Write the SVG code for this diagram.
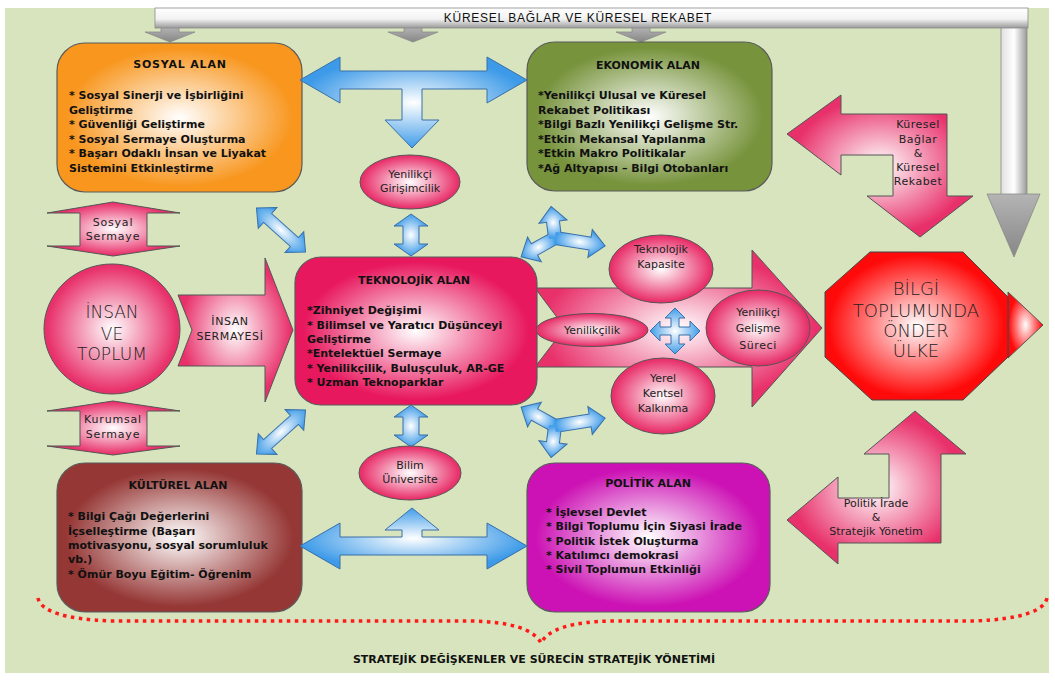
<svg xmlns="http://www.w3.org/2000/svg" xmlns:xlink="http://www.w3.org/1999/xlink" width="1055" height="681" viewBox="0 0 1055 681">
<defs>
<radialGradient id="gOrange" cx="50%" cy="50%" r="62%"><stop offset="0" stop-color="#ffffff"/><stop offset="0.75" stop-color="#f8961e"/></radialGradient>
<radialGradient id="gGreen" cx="50%" cy="50%" r="62%"><stop offset="0" stop-color="#ffffff"/><stop offset="0.75" stop-color="#77933c"/></radialGradient>
<radialGradient id="gTek" cx="50%" cy="50%" r="62%"><stop offset="0" stop-color="#ffffff"/><stop offset="0.75" stop-color="#e8185e"/></radialGradient>
<radialGradient id="gKul" cx="50%" cy="50%" r="62%"><stop offset="0" stop-color="#ffffff"/><stop offset="0.75" stop-color="#953735"/></radialGradient>
<radialGradient id="gPol" cx="50%" cy="50%" r="62%"><stop offset="0" stop-color="#ffffff"/><stop offset="0.75" stop-color="#cc12b4"/></radialGradient>
<radialGradient id="gPink" cx="50%" cy="50%" r="60%"><stop offset="0" stop-color="#ffffff"/><stop offset="0.8" stop-color="#e8306a"/></radialGradient>
<radialGradient id="gRed" cx="50%" cy="50%" r="60%"><stop offset="0" stop-color="#ffffff"/><stop offset="0.8" stop-color="#ff0a0a"/></radialGradient>
<radialGradient id="gBlue" cx="50%" cy="50%" r="60%"><stop offset="0" stop-color="#ffffff"/><stop offset="0.85" stop-color="#3c9ae8"/></radialGradient>
<linearGradient id="gBanner" x1="0" y1="0" x2="0" y2="1"><stop offset="0" stop-color="#ffffff"/><stop offset="0.55" stop-color="#f2f2f2"/><stop offset="1" stop-color="#9a9a9a"/></linearGradient>
<linearGradient id="gBarH" x1="0" y1="0" x2="1" y2="0"><stop offset="0" stop-color="#e0e0e0"/><stop offset="0.5" stop-color="#ffffff"/><stop offset="1" stop-color="#9a9a9a"/></linearGradient>
<linearGradient id="gGrayHead" x1="0" y1="0" x2="0" y2="1"><stop offset="0" stop-color="#b4b4b4"/><stop offset="1" stop-color="#878787"/></linearGradient>
<path id="armS" d="M0,-6 L24,-6 L24,-13 L38,0 L24,13 L24,6 L0,6 Z"/>
<path id="armM" d="M0,-6 L17,-6 L17,-13 L31,0 L17,13 L17,6 L0,6 Z"/>
<path id="armL" d="M0,-6 L36,-6 L36,-13 L50,0 L36,13 L36,6 L0,6 Z"/>
<path id="dbl" d="M-33,0 L-18,-14 L-18,-6 L18,-6 L18,-14 L33,0 L18,14 L18,6 L-18,6 L-18,14 Z"/>
<style>
.box{stroke:#5a5a5a;stroke-width:1.2}
.shape{stroke:#555;stroke-width:1}
.blue{fill:url(#gBlue);stroke:#3a6fa8;stroke-width:1}
.gray{fill:url(#gGrayHead);stroke:#8a8a8a;stroke-width:0.8}
.ttl{font-family:"DejaVu Sans",sans-serif;font-weight:bold;font-size:11px;fill:#111;text-anchor:middle}
.bt{font-family:"DejaVu Sans",sans-serif;font-weight:bold;font-size:11px;fill:#111}
.lbl{font-family:"DejaVu Sans",sans-serif;font-size:11px;fill:#222;text-anchor:middle}
.big{font-family:"DejaVu Sans",sans-serif;font-weight:300;fill:#222;text-anchor:middle}
</style>
</defs>

<rect x="0" y="0" width="1055" height="681" fill="#ffffff"/>
<rect x="5" y="8" width="1044" height="665" fill="#d7e4bd"/>

<g id="banner">
<polygon class="gray" points="161,27 179,27 179,32 195,32 170,42 145,32 161,32"/>
<polygon class="gray" points="404,27 422,27 422,32 438,32 413,42 388,32 404,32"/>
<polygon class="gray" points="632,27 650,27 650,32 666,32 641,42 616,32 632,32"/>
<rect x="1001" y="26" width="26" height="169" fill="url(#gBarH)" stroke="#8a8a8a" stroke-width="0.8"/>
<polygon points="987,194 1040,194 1014,257" fill="url(#gGrayHead)" stroke="#8a8a8a" stroke-width="0.8"/>
<rect x="155" y="8" width="873" height="20" fill="url(#gBanner)" stroke="#8a8a8a" stroke-width="0.8"/>
<text x="578" y="22" font-family="Liberation Sans, sans-serif" font-size="12" letter-spacing="0.7" fill="#111" text-anchor="middle">KÜRESEL BAĞLAR  VE  KÜRESEL  REKABET</text>
</g>

<g id="sosyal-alan">
<rect class="box" x="57" y="43" width="245" height="149" rx="28" fill="url(#gOrange)"/>
<text class="ttl" x="180" y="68" letter-spacing="0.8">SOSYAL ALAN</text>
<text class="bt" x="69" y="99">* Sosyal Sinerji ve İşbirliğini</text>
<text class="bt" x="69" y="114">Geliştirme</text>
<text class="bt" x="69" y="128">* Güvenliği Geliştirme</text>
<text class="bt" x="69" y="143">* Sosyal Sermaye Oluşturma</text>
<text class="bt" x="69" y="157">* Başarı Odaklı İnsan ve Liyakat</text>
<text class="bt" x="69" y="172">Sistemini Etkinleştirme</text>
</g>

<g id="ekonomik-alan">
<rect class="box" x="527" y="42" width="245" height="149" rx="28" fill="url(#gGreen)"/>
<text class="ttl" x="648" y="69">EKONOMİK ALAN</text>
<text class="bt" x="538" y="99">*Yenilikçi Ulusal ve Küresel</text>
<text class="bt" x="538" y="114">Rekabet Politikası</text>
<text class="bt" x="538" y="128">*Bilgi Bazlı Yenilikçi Gelişme Str.</text>
<text class="bt" x="538" y="143">*Etkin Mekansal Yapılanma</text>
<text class="bt" x="538" y="157">*Etkin Makro Politikalar</text>
<text class="bt" x="538" y="172">*Ağ Altyapısı – Bilgi Otobanları</text>
</g>

<g id="yenilikci-gelisme-arrow">
<polygon class="shape" points="535,288 752,288 752,250 822,328 752,407 752,367 535,367 565,328" fill="url(#gPink)"/>
</g>

<g id="teknolojik-alan">
<rect class="box" x="295" y="257" width="242" height="148" rx="26" fill="url(#gTek)"/>
<text class="ttl" x="414" y="284">TEKNOLOJİK ALAN</text>
<text class="bt" x="307" y="314">*Zihniyet Değişimi</text>
<text class="bt" x="307" y="329">* Bilimsel ve Yaratıcı Düşünceyi</text>
<text class="bt" x="307" y="343">Geliştirme</text>
<text class="bt" x="307" y="357">*Entelektüel Sermaye</text>
<text class="bt" x="307" y="372">* Yenilikçilik, Buluşçuluk, AR-GE</text>
<text class="bt" x="307" y="386">* Uzman Teknoparklar</text>
</g>

<g id="kulturel-alan">
<rect class="box" x="57" y="463" width="245" height="149" rx="28" fill="url(#gKul)"/>
<text class="ttl" x="178" y="489">KÜLTÜREL ALAN</text>
<text class="bt" x="68" y="520">* Bilgi Çağı Değerlerini</text>
<text class="bt" x="68" y="535">İçselleştirme (Başarı</text>
<text class="bt" x="68" y="549">motivasyonu, sosyal sorumluluk</text>
<text class="bt" x="68" y="563">vb.)</text>
<text class="bt" x="68" y="578">* Ömür Boyu Eğitim- Öğrenim</text>
</g>

<g id="politik-alan">
<rect class="box" x="527" y="463" width="243" height="149" rx="28" fill="url(#gPol)"/>
<text class="ttl" x="648" y="487">POLİTİK ALAN</text>
<text class="bt" x="546" y="516">* İşlevsel Devlet</text>
<text class="bt" x="546" y="530">* Bilgi Toplumu İçin Siyasi İrade</text>
<text class="bt" x="546" y="545">* Politik İstek Oluşturma</text>
<text class="bt" x="546" y="559">* Katılımcı demokrasi</text>
<text class="bt" x="546" y="573">* Sivil Toplumun Etkinliği</text>
</g>

<g id="connectors">
<polygon class="blue" points="300,80 340,57 340,71 487,71 487,57 527,80 487,103 487,89 422,89 422,120 439,120 412,148 385,120 402,120 402,89 340,89 340,103"/>
<polygon class="blue" points="300,546 340,523 340,537 402,537 402,530 385,530 412,508 439,530 422,530 422,537 487,537 487,523 527,546 487,569 487,555 340,555 340,569"/>
<polygon class="blue" points="411,214 428,226 419,226 419,244 428,244 411,256 394,244 403,244 403,226 394,226"/>
<polygon class="blue" points="411,405 428,417 419,417 419,435 428,435 411,447 394,435 403,435 403,417 394,417"/>
<use href="#dbl" xlink:href="#dbl" class="blue" transform="translate(281,230) rotate(42)"/>
<use href="#dbl" xlink:href="#dbl" class="blue" transform="translate(281,432) rotate(-42)"/>
<g stroke="#3a6fa8" stroke-width="2" fill="#3a6fa8">
<use href="#armS" xlink:href="#armS" transform="translate(555,238) rotate(151)"/>
<use href="#armM" xlink:href="#armM" transform="translate(555,238) rotate(-97)"/>
<use href="#armL" xlink:href="#armL" transform="translate(555,238) rotate(9)"/>
<use href="#armS" xlink:href="#armS" transform="translate(555,426) rotate(-151)"/>
<use href="#armM" xlink:href="#armM" transform="translate(555,426) rotate(97)"/>
<use href="#armL" xlink:href="#armL" transform="translate(555,426) rotate(-9)"/>
</g>
<g fill="url(#gBlue)">
<use href="#armS" xlink:href="#armS" transform="translate(555,238) rotate(151)"/>
<use href="#armM" xlink:href="#armM" transform="translate(555,238) rotate(-97)"/>
<use href="#armL" xlink:href="#armL" transform="translate(555,238) rotate(9)"/>
<use href="#armS" xlink:href="#armS" transform="translate(555,426) rotate(-151)"/>
<use href="#armM" xlink:href="#armM" transform="translate(555,426) rotate(97)"/>
<use href="#armL" xlink:href="#armL" transform="translate(555,426) rotate(-9)"/>
</g>
<polygon class="blue" points="700,331 690,321 690,327 679,327 679,318 685,318 675,308 665,318 671,318 671,327 660,327 660,321 650,331 660,341 660,335 671,335 671,344 665,344 675,354 685,344 679,344 679,335 690,335 690,341"/>
</g>

<g id="sosyal-sermaye">
<polygon class="shape" points="113,202 180,213 147,213 147,246 180,246 113,256 47,246 80,246 80,213 47,213" fill="url(#gPink)"/>
<text class="lbl" x="113" y="226" letter-spacing="0.8">Sosyal</text>
<text class="lbl" x="113" y="240" letter-spacing="0.8">Sermaye</text>
</g>

<g id="kurumsal-sermaye">
<polygon class="shape" points="113,401 180,411 147,411 147,446 180,446 113,455 47,446 80,446 80,411 47,411" fill="url(#gPink)"/>
<text class="lbl" x="113" y="423" letter-spacing="0.8">Kurumsal</text>
<text class="lbl" x="113" y="438" letter-spacing="0.8">Sermaye</text>
</g>

<g id="insan-ve-toplum">
<ellipse class="shape" cx="112" cy="329" rx="68" ry="65" fill="url(#gPink)"/>
<text class="big" x="112" y="318" font-size="17">İNSAN</text>
<text class="big" x="112" y="340" font-size="17">VE</text>
<text class="big" x="112" y="360" font-size="17">TOPLUM</text>
</g>

<g id="insan-sermayesi">
<polygon class="shape" points="178,295 265,295 265,258 293,330 265,402 265,366 178,366 192,330" fill="url(#gPink)"/>
<text class="lbl" x="230" y="325" letter-spacing="0.6">İNSAN</text>
<text class="lbl" x="230" y="340" letter-spacing="0.6">SERMAYESİ</text>
</g>

<g id="yenilikci-girisimcilik">
<ellipse class="shape" cx="410" cy="182" rx="50" ry="27" fill="url(#gPink)"/>
<text class="lbl" x="410" y="178" font-size="10.5">Yenilikçi</text>
<text class="lbl" x="410" y="192" font-size="10.5">Girişimcilik</text>
</g>

<g id="bilim-universite">
<ellipse class="shape" cx="410" cy="473" rx="51" ry="27" fill="url(#gPink)"/>
<text class="lbl" x="410" y="469" font-size="10.5">Bilim</text>
<text class="lbl" x="410" y="483" font-size="10.5">Üniversite</text>
</g>

<g id="teknolojik-kapasite">
<ellipse class="shape" cx="661" cy="269" rx="52" ry="34" fill="url(#gPink)"/>
<text class="lbl" x="661" y="253">Teknolojik</text>
<text class="lbl" x="661" y="268">Kapasite</text>
</g>

<g id="yenilikcilik">
<ellipse class="shape" cx="592" cy="330" rx="56" ry="16.5" fill="url(#gPink)"/>
<text class="lbl" x="592" y="334" font-size="11.5">Yenilikçilik</text>
</g>

<g id="yenilikci-gelisme-sureci">
<ellipse class="shape" cx="758" cy="328" rx="52" ry="38" fill="url(#gPink)"/>
<text class="lbl" x="758" y="316" font-size="11.5">Yenilikçi</text>
<text class="lbl" x="758" y="332" font-size="11.5">Gelişme</text>
<text class="lbl" x="758" y="349" font-size="11.5" letter-spacing="0.6">Süreci</text>
</g>

<g id="yerel-kentsel-kalkinma">
<ellipse class="shape" cx="663" cy="396" rx="52" ry="38" fill="url(#gPink)"/>
<text class="lbl" x="663" y="382">Yerel</text>
<text class="lbl" x="663" y="397">Kentsel</text>
<text class="lbl" x="663" y="412">Kalkınma</text>
</g>

<g id="kuresel-baglar">
<polygon class="shape" points="787,134 841,95 841,114 947,114 947,196 973,196 920,237 867,196 893,196 893,155 841,155 841,175" fill="url(#gPink)"/>
<text class="lbl" x="918" y="128" letter-spacing="0.5">Küresel</text>
<text class="lbl" x="918" y="143" letter-spacing="0.5">Bağlar</text>
<text class="lbl" x="918" y="157">&amp;</text>
<text class="lbl" x="918" y="171" letter-spacing="0.5">Küresel</text>
<text class="lbl" x="918" y="185" letter-spacing="0.5">Rekabet</text>
</g>

<g id="bilgi-toplumunda-onder-ulke">
<polygon points="1008,292 1043,325 1008,358" fill="url(#gRed)" stroke="#555" stroke-width="1"/>
<polygon points="870,252 963,252 1008,297 1008,357 963,400 872,400 825,357 825,292" fill="url(#gRed)" stroke="#444" stroke-width="1"/>
<text class="big" x="916" y="295" font-size="18" fill="#333">BİLGİ</text>
<text class="big" x="916" y="317" font-size="18">TOPLUMUNDA</text>
<text class="big" x="916" y="337" font-size="18">ÖNDER</text>
<text class="big" x="916" y="357" font-size="18">ÜLKE</text>
</g>

<g id="politik-irade">
<polygon class="shape" points="915,411 966,454 941,454 941,543 838,543 838,564 787,520 838,477 838,498 889,498 889,454 864,454" fill="url(#gPink)"/>
<text class="lbl" x="876" y="507" font-size="10.5">Politik İrade</text>
<text class="lbl" x="876" y="521" font-size="10.5">&amp;</text>
<text class="lbl" x="876" y="535" font-size="10.5">Stratejik Yönetim</text>
</g>

<g id="stratejik-yonetim">
<path d="M38,598 Q42,618 110,621 L470,621 Q530,622 541,643 Q552,622 612,621 L975,621 Q1043,618 1047,598" fill="none" stroke="#ff1a1a" stroke-width="3.5" stroke-dasharray="3.5 4.5"/>
<text x="534" y="663" font-family="DejaVu Sans, sans-serif" font-weight="bold" font-size="11" fill="#111" text-anchor="middle">STRATEJİK DEĞİŞKENLER VE SÜRECİN STRATEJİK YÖNETİMİ</text>
</g>
</svg>
